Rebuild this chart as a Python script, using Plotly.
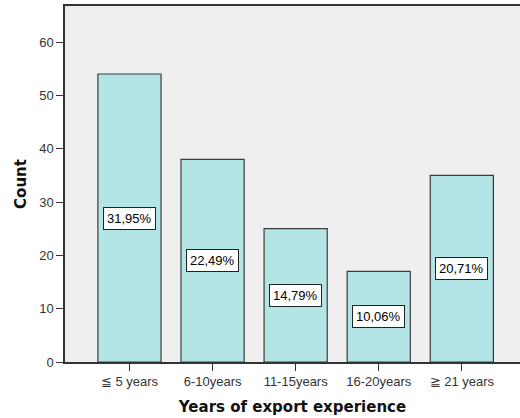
import plotly.graph_objects as go

categories = ["≦ 5 years", "6-10years", "11-15years", "16-20years", "≧ 21 years"]
counts = [54, 38, 25, 17, 35]
percent_labels = ["31,95%", "22,49%", "14,79%", "10,06%", "20,71%"]
y_ticks = [0, 10, 20, 30, 40, 50, 60]

font_family = "Arial, Liberation Sans, sans-serif"
title_family = "DejaVu Sans, Verdana, sans-serif"

fig = go.Figure()
fig.add_trace(go.Bar(
    x=list(range(len(categories))),
    y=counts,
    width=0.76,
    marker=dict(color="#B3E5E6", line=dict(color="#3c3c3c", width=1.2)),
    hoverinfo="skip",
))

for i, (c, p) in enumerate(zip(counts, percent_labels)):
    fig.add_annotation(
        x=i, y=c / 2, text=p, showarrow=False,
        font=dict(family=font_family, size=13, color="#000"),
        bgcolor="white", bordercolor="#222", borderwidth=1, borderpad=3,
    )

fig.update_layout(
    width=520, height=418,
    margin=dict(l=65, r=0, t=6, b=56),
    paper_bgcolor="white",
    plot_bgcolor="#EFEFEF",
    showlegend=False,
    font=dict(family=font_family, size=13, color="#333"),
    xaxis=dict(
        tickmode="array", tickvals=list(range(len(categories))), ticktext=categories,
        range=[-0.776, 4.70],
        showline=True, linecolor="#333", linewidth=1.5, mirror=True,
        ticks="outside", ticklen=7, tickcolor="#333", tickwidth=1,
        showgrid=False, zeroline=False,
        tickfont=dict(size=13, color="#333"),
        title=dict(text="<b>Years of export experience</b>",
                   font=dict(family=title_family, size=15, color="#111"), standoff=13),
    ),
    yaxis=dict(
        range=[0, 66.75],
        tickmode="array", tickvals=y_ticks,
        showline=True, linecolor="#333", linewidth=1.5,
        ticks="outside", ticklen=7, tickcolor="#333", tickwidth=1,
        showgrid=False, zeroline=False,
        tickfont=dict(size=13, color="#333"),
        title=dict(text="<b>Count</b>",
                   font=dict(family=title_family, size=15, color="#111"), standoff=9),
    ),
)

fig.write_html("out.html", config={"displayModeBar": False},
               post_script="document.body.style.margin='0';document.body.style.overflow='hidden';")
